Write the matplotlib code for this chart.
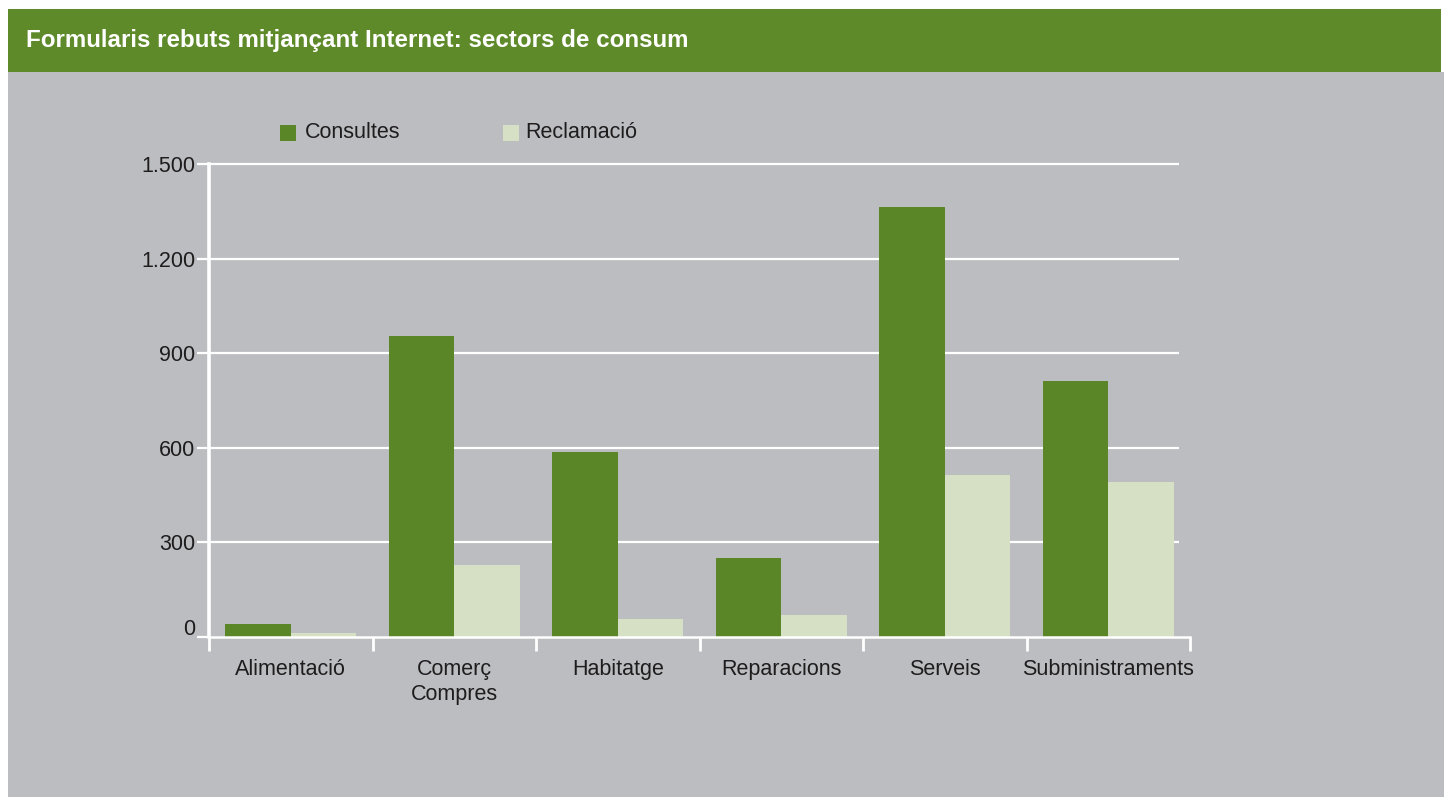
import matplotlib
matplotlib.use("Agg")
import matplotlib.pyplot as plt
import matplotlib.transforms as mtransforms
from matplotlib.patches import Rectangle
import numpy as np

# Data
categories = ["Alimentació", "Comerç\nCompres", "Habitatge", "Reparacions", "Serveis", "Subministraments"]
series_names = ["Consultes", "Reclamació"]
consultes = [41, 954, 587, 250, 1364, 812]
reclamacio = [12, 228, 57, 70, 514, 491]
yticks = [0, 300, 600, 900, 1200, 1500]
ytick_labels = ["0", "300", "600", "900", "1.200", "1.500"]
title = "Formularis rebuts mitjançant Internet: sectors de consum"

# Style
W, H = 1444, 797
GREEN = "#5B8628"
HEADER = "#5E8A2A"
LIGHT = "#D5E0C5"
PANEL = "#BCBDC1"
TEXT = "#1E1C1D"
FS = 15.5

plt.rcParams["font.family"] = ["Liberation Sans", "DejaVu Sans"]

fig = plt.figure(figsize=(W / 100, H / 100), dpi=100, facecolor="white")


def fx(px):
    return px / W


def fy(py):
    return 1 - py / H


# Panel background and header band
fig.patches.append(Rectangle((fx(8), 0), fx(W - 8), fy(72), transform=fig.transFigure,
                             facecolor=PANEL, edgecolor="none", zorder=-10))
fig.patches.append(Rectangle((fx(8), fy(72)), fx(1441 - 8), fy(9) - fy(72), transform=fig.transFigure,
                             facecolor=HEADER, edgecolor="none", zorder=-10))
fig.text(fx(26), fy(40), title, color="white", fontsize=17.4, fontweight="bold",
         ha="left", va="center")

# Axes
ax_left, ax_right, ax_top, ax_bottom = 209, 1190, 164, 637
ax = fig.add_axes([fx(ax_left), fy(ax_bottom), fx(ax_right - ax_left), fy(ax_top) - fy(ax_bottom)])
ax.set_facecolor("none")
ax.set_zorder(5)

x = np.arange(len(categories))
bw = 0.4
ax.bar(x - bw / 2, consultes, width=bw, color=GREEN, zorder=3, label=series_names[0])
ax.bar(x + bw / 2, reclamacio, width=bw, color=LIGHT, zorder=3, label=series_names[1])

ax.set_xlim(-0.5, len(categories) - 0.5)
ax.set_ylim(0, 1500)

# Gridlines stop a little short of the right end of the x axis
grid_end = (1179 - ax_left) / (ax_right - ax_left)
ax.hlines(yticks[1:], 0, grid_end, transform=ax.get_yaxis_transform(),
          color="white", linewidth=1.6, zorder=2, clip_on=False)

for side in ["top", "right"]:
    ax.spines[side].set_visible(False)
ax.spines["left"].set_color("white")
ax.spines["left"].set_linewidth(2.6)
ax.spines["left"].set_zorder(4)
ax.spines["bottom"].set_color("white")
ax.spines["bottom"].set_linewidth(1.8)
ax.spines["bottom"].set_zorder(4)

ax.set_yticks(yticks)
ax.set_yticklabels(ytick_labels)
ax.tick_params(axis="y", colors="white", length=9, width=1.6, pad=1,
               labelsize=FS, labelcolor=TEXT)

# Slot boundaries as major ticks, category names on minor ticks
ax.set_xticks(np.arange(-0.5, len(categories), 1.0))
ax.set_xticklabels([])
ax.set_xticks(x, minor=True)
ax.set_xticklabels(categories, minor=True, linespacing=1.3)
ax.tick_params(axis="x", which="major", colors="white", length=10, width=2.0, direction="out")
ax.tick_params(axis="x", which="minor", length=0, pad=15.5, labelsize=FS, labelcolor=TEXT)

# The zero label sits slightly above its line
zero_label = ax.get_yticklabels()[0]
zero_label.set_transform(zero_label.get_transform() +
                         mtransforms.ScaledTranslation(0, 10 / 100, fig.dpi_scale_trans))

# Legend drawn as swatches with labels
legend_items = [(280, 305, GREEN, series_names[0]), (503, 525, LIGHT, series_names[1])]
for px, tx, col, name in legend_items:
    fig.patches.append(Rectangle((fx(px), fy(141)), fx(16), fy(125) - fy(141),
                                 transform=fig.transFigure, facecolor=col, edgecolor="none"))
    fig.text(fx(tx), fy(133), name, color=TEXT, fontsize=FS, ha="left", va="center")

fig.savefig("out.png", dpi=100, facecolor=fig.get_facecolor())
